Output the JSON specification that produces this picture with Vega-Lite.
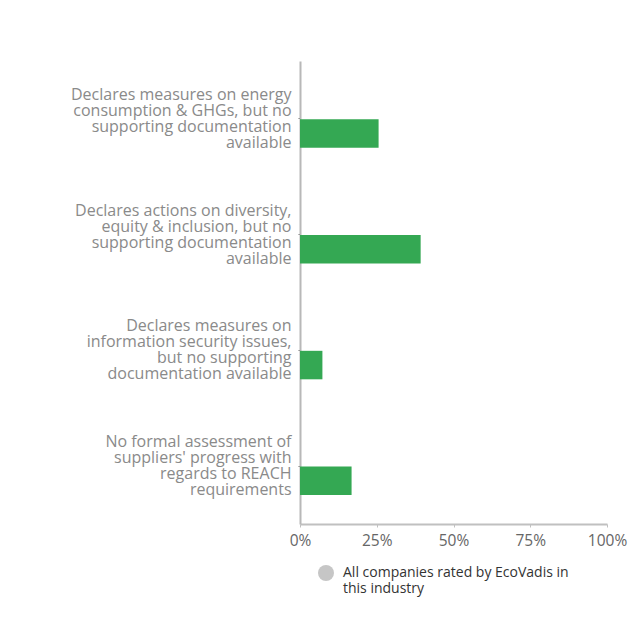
{
  "$schema": "https://vega.github.io/schema/vega-lite/v6.json",
  "autosize": "none",
  "width": 307,
  "height": 463,
  "padding": {"left": 300, "top": 61, "right": 26, "bottom": 112},
  "background": "white",
  "config": {
    "font": "Open Sans",
    "view": {"stroke": null}
  },
  "data": {
    "values": [
      {"category": "Declares measures on energy|consumption & GHGs, but no|supporting documentation|available", "series": "This company", "value": 25.6},
      {"category": "Declares actions on diversity,|equity & inclusion, but no|supporting documentation|available", "series": "This company", "value": 39.3},
      {"category": "Declares measures on|information security issues,|but no supporting|documentation available", "series": "This company", "value": 7.3},
      {"category": "No formal assessment of|suppliers' progress with|regards to REACH|requirements", "series": "This company", "value": 16.8}
    ]
  },
  "mark": {"type": "bar"},
  "encoding": {
    "y": {
      "field": "category",
      "type": "nominal",
      "sort": null,
      "scale": {"paddingInner": 0.5, "paddingOuter": 0.25},
      "axis": {
        "title": null,
        "labelExpr": "split(datum.label, '|')",
        "labelFont": "Open Sans",
        "labelFontSize": 16,
        "labelLineHeight": 16,
        "labelColor": "#8a8a8a",
        "labelPadding": 7,
        "labelOffset": -24,
        "labelLimit": 300,
        "domainColor": "#b8b8b8",
        "domainWidth": 2,
        "tickColor": "#777777",
        "tickSize": 2,
        "tickWidth": 1
      }
    },
    "yOffset": {
      "field": "series",
      "type": "nominal",
      "scale": {"domain": ["All companies rated by EcoVadis in this industry", "This company"], "paddingInner": 0.03}
    },
    "x": {
      "field": "value",
      "type": "quantitative",
      "scale": {"domain": [0, 100], "nice": false},
      "axis": {
        "title": null,
        "values": [0, 25, 50, 75, 100],
        "labelExpr": "datum.value + '%'",
        "grid": false,
        "labelFont": "Open Sans",
        "labelFontSize": 15.5,
        "labelColor": "#666666",
        "labelPadding": 6,
        "labelFlush": false,
        "domainColor": "#c0c0c0",
        "domainWidth": 2,
        "tickColor": "#c0c0c0",
        "tickSize": 3,
        "tickWidth": 1
      }
    },
    "color": {
      "field": "series",
      "type": "nominal",
      "scale": {"domain": ["All companies rated by EcoVadis in this industry", "This company"], "range": ["#c6c6c6", "#34a853"]},
      "legend": {
        "title": null,
        "values": ["All companies rated by EcoVadis in this industry"],
        "orient": "none",
        "legendX": 18,
        "legendY": 504,
        "symbolType": "circle",
        "symbolSize": 256,
        "symbolStrokeWidth": 0,
        "labelExpr": "['All companies rated by EcoVadis in', 'this industry']",
        "labelFont": "Open Sans",
        "labelFontSize": 14,
        "labelLineHeight": 15,
        "labelColor": "#333333",
        "labelLimit": 400,
        "labelBaseline": "middle",
        "labelOffset": 9
      }
    }
  }
}
